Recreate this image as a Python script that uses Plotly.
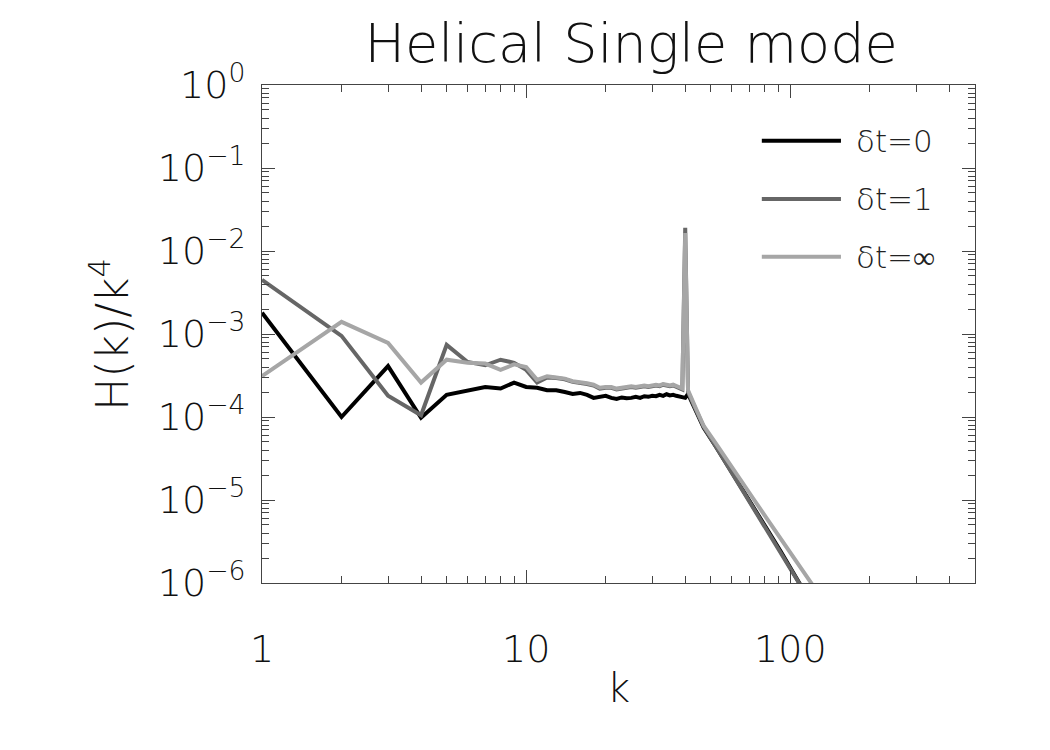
import plotly.graph_objects as go

# ---------------- data ----------------
k_low = list(range(1, 40))  # k = 1..39
h0_low = [1.8e-3, 1.0e-4, 4.1e-4, 9.8e-5, 1.85e-4, 2.1e-4, 2.3e-4, 2.2e-4, 2.6e-4, 2.3e-4,
          2.25e-4, 2.1e-4, 2.1e-4, 2.0e-4, 1.9e-4, 1.95e-4, 1.85e-4, 1.7e-4, 1.75e-4, 1.8e-4,
          1.7e-4, 1.65e-4, 1.72e-4, 1.68e-4, 1.7e-4, 1.75e-4, 1.7e-4, 1.78e-4, 1.75e-4, 1.8e-4,
          1.78e-4, 1.85e-4, 1.8e-4, 1.88e-4, 1.82e-4, 1.85e-4, 1.8e-4, 1.78e-4, 1.75e-4]
h1_low = [4.5e-3, 9.5e-4, 1.8e-4, 1.05e-4, 7.4e-4, 4.6e-4, 4.2e-4, 4.9e-4, 4.5e-4, 3.7e-4,
          2.6e-4, 3.0e-4, 2.95e-4, 2.85e-4, 2.65e-4, 2.6e-4, 2.5e-4, 2.4e-4, 2.2e-4, 2.25e-4,
          2.25e-4, 2.15e-4, 2.2e-4, 2.25e-4, 2.3e-4, 2.25e-4, 2.3e-4, 2.35e-4, 2.3e-4, 2.35e-4,
          2.4e-4, 2.35e-4, 2.45e-4, 2.4e-4, 2.35e-4, 2.4e-4, 2.3e-4, 2.25e-4, 2.15e-4]
hinf_low = [3.1e-4, 1.4e-3, 7.8e-4, 2.6e-4, 4.9e-4, 4.5e-4, 4.4e-4, 3.7e-4, 4.3e-4, 4.0e-4,
            2.8e-4, 3.1e-4, 3.0e-4, 2.9e-4, 2.7e-4, 2.65e-4, 2.55e-4, 2.45e-4, 2.25e-4, 2.3e-4,
            2.3e-4, 2.2e-4, 2.25e-4, 2.3e-4, 2.35e-4, 2.3e-4, 2.35e-4, 2.4e-4, 2.35e-4, 2.4e-4,
            2.45e-4, 2.4e-4, 2.5e-4, 2.45e-4, 2.4e-4, 2.45e-4, 2.35e-4, 2.3e-4, 2.2e-4]

k_high = [40, 41, 44, 47, 52, 58, 65, 73, 82, 92, 104, 116, 128]
h0_high = [1.7e-4, 1.9e-4, 1.15e-4, 7.4e-5, 4.5e-5, 2.6e-5, 1.45e-5, 8.0e-6, 4.35e-6, 2.4e-6, 1.24e-6, 6.9e-7, 4.0e-7]
h1_high = [1.9e-2, 2.0e-4, 1.2e-4, 7.6e-5, 4.5e-5, 2.55e-5, 1.4e-5, 7.7e-6, 4.2e-6, 2.3e-6, 1.22e-6, 6.9e-7, 4.1e-7]
hinf_high = [1.65e-2, 2.1e-4, 1.25e-4, 7.8e-5, 4.9e-5, 2.9e-5, 1.7e-5, 1.0e-5, 5.8e-6, 3.4e-6, 1.9e-6, 1.2e-6, 7.4e-7]

series_names = ["δt=0", "δt=1", "δt=∞"]
series_colors = ["#000000", "#666666", "#a6a6a6"]

y_tickvals = [1, 1e-1, 1e-2, 1e-3, 1e-4, 1e-5, 1e-6]
y_ticktext = ["10<sup>0</sup>", "10<sup>−1</sup>", "10<sup>−2</sup>", "10<sup>−3</sup>",
              "10<sup>−4</sup>", "10<sup>−5</sup>", "10<sup>−6</sup>"]
x_tickvals = [1, 10, 100]
x_ticktext = ["1", "10", "100"]

# ---------------- figure ----------------
FONT = "DejaVu Sans"
W = 200
k_all = k_low + k_high
ys = [h0_low + h0_high, h1_low + h1_high, hinf_low + hinf_high]

fig = go.Figure()
for name, col, y in zip(series_names, series_colors, ys):
    fig.add_trace(go.Scatter(x=k_all, y=y, mode="lines", name=name,
                             line=dict(color=col, width=4), showlegend=False))

# manual legend (long line samples like the original)
leg_y = [0.888, 0.771, 0.655]
for name, col, yy in zip(series_names, series_colors, leg_y):
    fig.add_shape(type="line", xref="paper", yref="paper", x0=0.701, x1=0.812, y0=yy, y1=yy,
                  line=dict(color=col, width=4))
    fig.add_annotation(xref="paper", yref="paper", x=0.830, y=yy, text=name, showarrow=False,
                       xanchor="left", yanchor="middle",
                       font=dict(family=FONT, size=31, color="#222222", weight=W))

axis_common = dict(type="log", showline=True, linecolor="#444444", linewidth=1, mirror="allticks",
                   ticks="inside", tickcolor="#444444", showgrid=False, zeroline=False,
                   tickfont=dict(family=FONT, size=38, color="#111111", weight=W))

fig.update_xaxes(range=[0, 2.699], tickvals=x_tickvals, ticktext=x_ticktext, ticklen=13,
                 ticklabelstandoff=32,
                 minor=dict(dtick="D1", ticks="inside", ticklen=7, tickcolor="#444444", showgrid=False),
                 **axis_common)
fig.update_yaxes(range=[-6, 0], tickvals=y_tickvals, ticktext=y_ticktext, ticklen=13,
                 ticklabelstandoff=8,
                 minor=dict(dtick="D1", ticks="inside", ticklen=7, tickcolor="#444444", showgrid=False),
                 **axis_common)

fig.add_annotation(xref="paper", yref="paper", x=-0.215, y=0.5, text="H(k)/k<sup>4</sup>",
                   textangle=-90, showarrow=False, xanchor="center", yanchor="middle",
                   font=dict(family=FONT, size=44, color="#111111", weight=W))
fig.add_annotation(xref="paper", yref="paper", x=0.5, y=-0.21, text="k", showarrow=False,
                   xanchor="center", yanchor="middle",
                   font=dict(family=FONT, size=40, color="#111111", weight=W))

fig.update_layout(
    width=1050, height=750,
    margin=dict(l=262, r=75, t=85, b=167),
    paper_bgcolor="white", plot_bgcolor="white",
    title=dict(text="Helical Single mode", x=0.601, xanchor="center", y=0.943, yanchor="middle",
               font=dict(family=FONT, size=54, color="#111111", weight=W)),
)

fig.write_html("out.html")
